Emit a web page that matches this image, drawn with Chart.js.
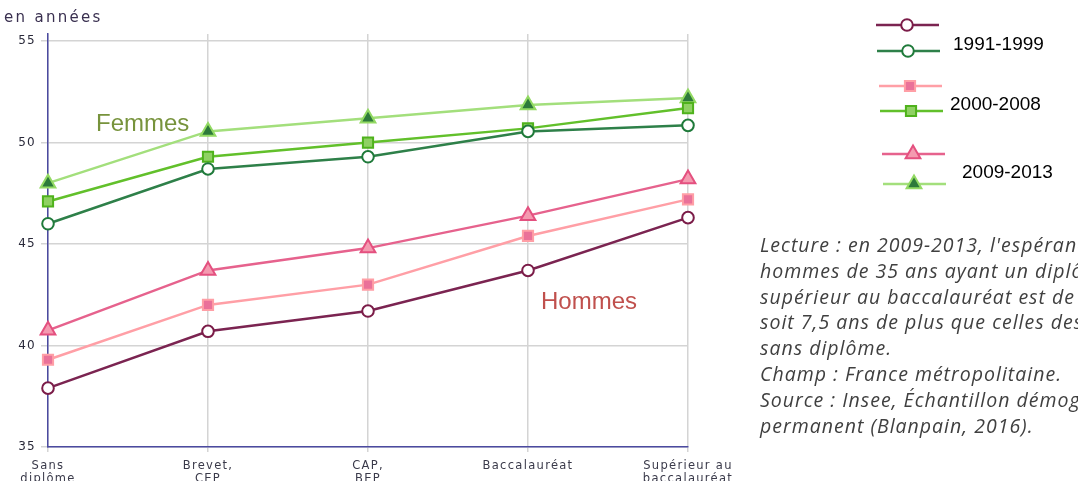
<!DOCTYPE html>
<html>
<head>
<meta charset="utf-8">
<script src="https://cdn.jsdelivr.net/npm/chart.js@4"></script>
<style>
  html, body { margin: 0; padding: 0; background: #fff; overflow: hidden; }
  #wrap { position: relative; width: 1078px; height: 481px; }
  .note { position: absolute; left: 760px; top: 232px; width: 700px; font-family: 'Open Sans', sans-serif;
          font-style: italic; font-size: 19.5px; letter-spacing: 1px; line-height: 25.8px; color: #404040; white-space: nowrap; }
</style>
</head>
<body>
<div id="wrap">
  <canvas id="chart" width="1078" height="481"></canvas>
  <div class="note">
    Lecture : en 2009-2013, l'espérance de vie des<br>
    hommes de 35 ans ayant un diplôme<br>
    supérieur au baccalauréat est de 48,2 ans,<br>
    soit 7,5 ans de plus que celles des hommes<br>
    sans diplôme.<br>
    Champ : France métropolitaine.<br>
    Source : Insee, Échantillon démographique<br>
    permanent (Blanpain, 2016).
  </div>
</div>
<script>
// categories (niveau de diplôme)
const categories = [['Sans', 'diplôme'], ['Brevet,', 'CEP'], ['CAP,', 'BEP'], 'Baccalauréat', ['Supérieur au', 'baccalauréat']];
const yTicks = [35, 40, 45, 50, 55];

// Femmes
const femmes1991 = [46.0, 48.7, 49.3, 50.55, 50.85];
const femmes2000 = [47.1, 49.3, 50.0, 50.7, 51.7];
const femmes2009 = [48.0, 50.55, 51.2, 51.85, 52.2];
// Hommes
const hommes1991 = [37.9, 40.7, 41.7, 43.7, 46.3];
const hommes2000 = [39.3, 42.0, 43.0, 45.4, 47.2];
const hommes2009 = [40.75, 43.7, 44.8, 46.4, 48.2];

const periods = ['1991-1999', '2000-2008', '2009-2013'];

function ds(label, data, color, style, fill, border, radius) {
  return {
    label: label,
    data: data,
    borderColor: color,
    borderWidth: 2.5,
    pointStyle: style,
    pointRadius: radius,
    pointHoverRadius: radius,
    pointBackgroundColor: fill,
    pointBorderColor: border,
    pointBorderWidth: 2,
    tension: 0,
    fill: false
  };
}

const datasets = [
  ds('Hommes 1991-1999', hommes1991, '#7b2451', 'circle', '#ffffff', '#7b1c48', 5.8),
  ds('Femmes 1991-1999', femmes1991, '#2e8049', 'circle', '#ffffff', '#1f7a3a', 5.8),
  ds('Hommes 2000-2008', hommes2000, '#ff9fa6', 'rect', '#ea7199', '#ff9fa6', 7.2),
  ds('Femmes 2000-2008', femmes2000, '#62c02b', 'rect', '#8fd163', '#4fb21c', 7.2),
  ds('Hommes 2009-2013', hommes2009, '#e6628d', 'triangle', '#f49ab0', '#e4507f', 8.5),
  ds('Femmes 2009-2013', femmes2009, '#a3df7c', 'triangle', '#2d7a3a', '#93da63', 8.5)
];

// the source picture is stretched sideways, so text gets some letter spacing
const spacing = {
  id: 'spacing',
  beforeDraw(chart) { chart.ctx.letterSpacing = '1.3px'; },
  afterDraw(chart) { chart.ctx.letterSpacing = '0px'; }
};

// legend symbols + free texts drawn on the canvas
const extras = {
  id: 'extras',
  afterDraw(chart) {
    const ctx = chart.ctx;
    ctx.save();
    // y unit
    ctx.letterSpacing = '2.3px';
    ctx.font = '15px "DejaVu Sans", sans-serif';
    ctx.fillStyle = '#3a3050';
    ctx.textBaseline = 'middle';
    ctx.textAlign = 'left';
    ctx.fillText('en années', 4, 18);
    ctx.letterSpacing = '0px';

    // group labels
    ctx.font = '24px "Liberation Sans", Arial, sans-serif';
    ctx.fillStyle = '#77933c';
    ctx.fillText('Femmes', 96, 124);
    ctx.fillStyle = '#c0504d';
    ctx.fillText('Hommes', 541, 302);

    // legend
    const rows = [[25, 876], [51, 877], [86, 879], [111, 880], [154, 882], [184, 883]];
    chart.data.datasets.forEach(function (d, i) {
      const y = rows[i][0];
      const x0 = rows[i][1];
      ctx.strokeStyle = d.borderColor;
      ctx.lineWidth = 2.5;
      ctx.beginPath();
      ctx.moveTo(x0, y);
      ctx.lineTo(x0 + 63, y);
      ctx.stroke();
      ctx.fillStyle = d.pointBackgroundColor;
      ctx.strokeStyle = d.pointBorderColor;
      ctx.lineWidth = d.pointBorderWidth;
      Chart.helpers.drawPoint(ctx, { pointStyle: d.pointStyle, radius: d.pointRadius, borderWidth: d.pointBorderWidth, rotation: 0 }, x0 + 31, y);
    });
    ctx.font = '19px "Liberation Sans", Arial, sans-serif';
    ctx.fillStyle = '#000000';
    ctx.fillText(periods[0], 953, 45);
    ctx.fillText(periods[1], 950, 105);
    ctx.fillText(periods[2], 962, 173);
    ctx.restore();
  }
};

new Chart(document.getElementById('chart'), {
  type: 'line',
  data: { labels: categories, datasets: datasets },
  options: {
    responsive: false,
    animation: false,
    layout: { padding: { left: 0, right: 390, top: 34, bottom: 0 } },
    plugins: { legend: { display: false }, tooltip: { enabled: false } },
    scales: {
      x: {
        offset: false,
        grid: { color: '#d4d4d4', lineWidth: 1.5, tickLength: 5, drawOnChartArea: true },
        border: { color: '#4b4aa0', width: 1.5 },
        ticks: { color: '#3a3a4a', font: { family: 'DejaVu Sans', size: 11.5, lineHeight: 1.15 }, padding: 7, maxRotation: 0, autoSkip: false },
        afterFit(scale) { scale.height = 34; }
      },
      y: {
        min: 35,
        max: 55.35,
        afterBuildTicks(scale) { scale.ticks = yTicks.map(function (v) { return { value: v }; }); },
        grid: { color: '#d4d4d4', lineWidth: 1.5, tickLength: 7 },
        border: { color: '#4b4aa0', width: 1.5 },
        ticks: { color: '#2a2a3a', font: { family: 'DejaVu Sans', size: 12 }, padding: 5 },
        afterFit(scale) { scale.width = 48; }
      }
    }
  },
  plugins: [spacing, extras]
});
</script>
</body>
</html>
